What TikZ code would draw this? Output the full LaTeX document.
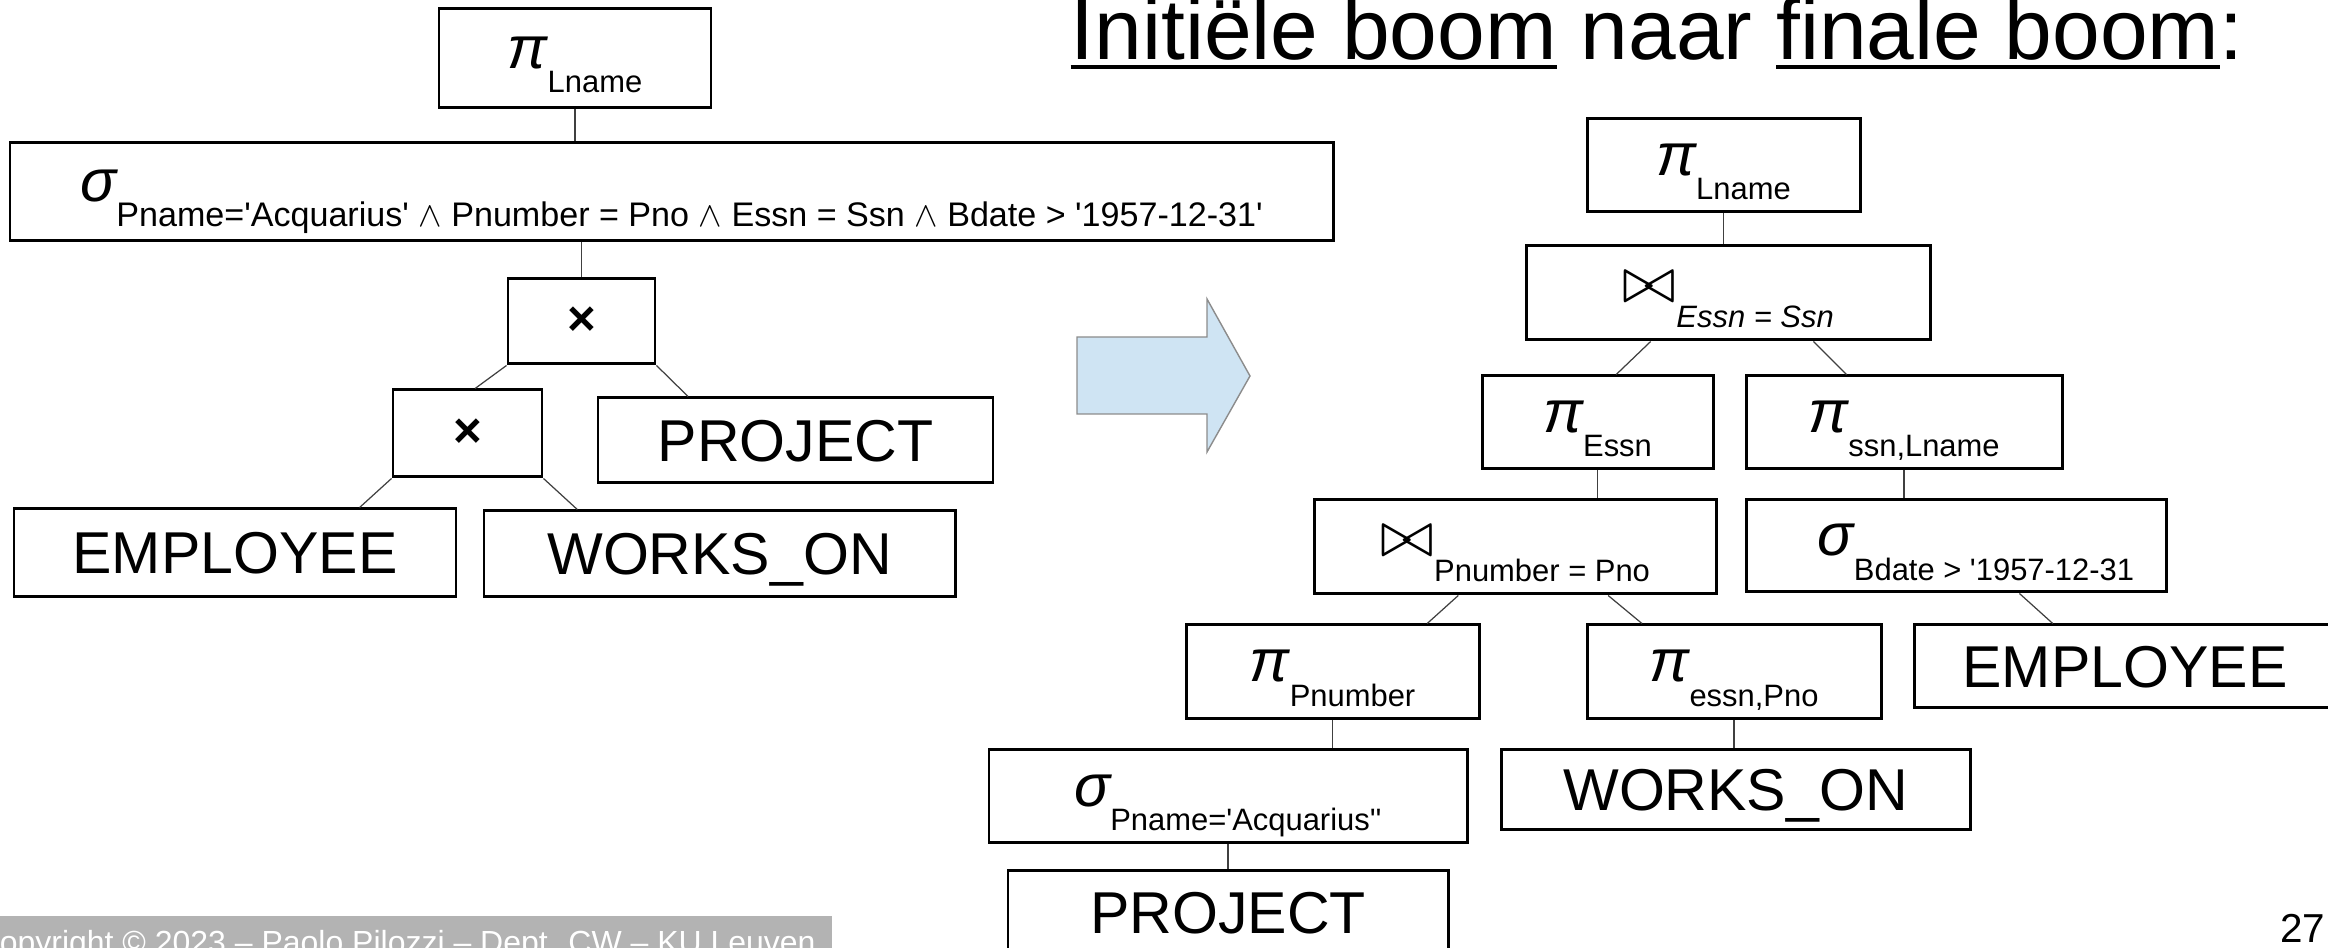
\documentclass[tikz,border=0pt]{standalone}
\usepackage{fontspec}
\setmainfont{Liberation Sans}
\usepackage{graphicx}
\usepackage{tikz}
\usetikzlibrary{calc}
\definecolor{ArrowFill}{HTML}{CFE4F3}
\definecolor{ArrowLine}{HTML}{8C8C8C}
\definecolor{FootGray}{HTML}{B3B3B3}
\newsavebox{\ulbox}
\newcommand{\ttlul}[1]{\sbox{\ulbox}{#1}\rlap{\rule[-2.6pt]{\wd\ulbox}{1.1pt}}\usebox{\ulbox}}
\newcommand{\sqt}{\textquotesingle}
\newcommand{\opsym}[3][8.8pt]{{\fontsize{17pt}{17pt}\selectfont\itshape #2}\raisebox{-7pt}{\fontsize{#1}{10pt}\selectfont #3}}
\newcommand{\joinop}[1]{\scalebox{1.85}{$\bowtie$}\raisebox{-7pt}{\fontsize{8.8pt}{10pt}\selectfont #1}}
\newcommand{\crossop}{{\fontsize{14pt}{14pt}\selectfont\bfseries ×}}

\begin{document}
\begin{tikzpicture}[box/.style={draw, line width=0.85pt, inner sep=0pt},
  op/.style={box, text height=9.5pt, text depth=4pt},
  leaf/.style={box, text depth=0pt, font=\fontsize{16.8pt}{18pt}\selectfont},
  link/.style={draw=black!75, line width=0.35pt}]
  \useasboundingbox (0,0) rectangle (23.28,-9.48);
  % initial tree
  \node[op, minimum width=2.72cm, minimum height=0.99cm] (lpi) at (5.75,-0.585) {\opsym{π}{Lname}};
  \node[op, minimum width=13.23cm, minimum height=0.98cm] (lsel) at (6.715,-1.92)
    {\opsym[9.7pt]{σ}{Pname=\sqt Acquarius\sqt{} $\wedge$ Pnumber = Pno $\wedge$ Essn = Ssn $\wedge$ Bdate > \sqt 1957-12-31\sqt}};
  \node[box, minimum width=1.47cm, minimum height=0.85cm] (ltop) at (5.815,-3.215) {\crossop};
  \node[box, minimum width=1.49cm, minimum height=0.87cm] (llow) at (4.675,-4.335) {\crossop};
  \node[leaf, minimum width=3.95cm, minimum height=0.85cm] (lproj) at (7.955,-4.405) {PROJECT};
  \node[leaf, minimum width=4.42cm, minimum height=0.88cm] (lemp) at (2.35,-5.53) {EMPLOYEE};
  \node[leaf, minimum width=4.71cm, minimum height=0.86cm] (lworks) at (7.195,-5.54) {WORKS\_ON};
  \draw[link] (lpi.south) -- (lpi.south |- lsel.north);
  \draw[link] (ltop.north |- lsel.south) -- (ltop.north);
  \draw[link] (ltop.south west) -- ($(llow.north west)!.55!(llow.north east)$);
  \draw[link] (ltop.south east) -- ($(lproj.north west)!.23!(lproj.north east)$);
  \draw[link] (llow.south west) -- ($(lemp.north west)!.78!(lemp.north east)$);
  \draw[link] (llow.south east) -- ($(lworks.north west)!.2!(lworks.north east)$);
  % arrow
  \draw[fill=ArrowFill, draw=ArrowLine, line width=0.4pt] (10.77,-3.37) -- (12.07,-3.37) -- (12.07,-2.99)
    -- (12.50,-3.76) -- (12.07,-4.52) -- (12.07,-4.14) -- (10.77,-4.14) -- cycle;
  % title
  \node[anchor=base west, inner sep=0pt, font=\fontsize{24.4pt}{27pt}\selectfont] (title) at (10.70,-0.60)
    {\ttlul{Initiële boom} naar \ttlul{finale boom}:};
  % final tree
  \node[op, minimum width=2.73cm, minimum height=0.93cm] (rpi) at (17.235,-1.655) {\opsym{π}{Lname}};
  \node[op, minimum width=4.04cm, minimum height=0.94cm] (rjoin) at (17.28,-2.93) {\joinop{\itshape Essn = Ssn}};
  \node[op, minimum width=2.31cm, minimum height=0.93cm] (rpiE) at (15.975,-4.225) {\opsym{π}{Essn}};
  \node[op, minimum width=3.16cm, minimum height=0.93cm] (rpiS) at (19.04,-4.225) {\opsym{π}{ssn,Lname}};
  \node[op, minimum width=4.02cm, minimum height=0.94cm] (rjoinP) at (15.15,-5.47) {\joinop{Pnumber = Pno}};
  \node[op, minimum width=4.20cm, minimum height=0.92cm] (rselB) at (19.56,-5.46) {\hspace*{0.4cm}\opsym{σ}{Bdate > \sqt 1957-12-31}};
  \node[op, minimum width=2.93cm, minimum height=0.94cm] (rpiP) at (13.325,-6.72) {\opsym{π}{Pnumber}};
  \node[op, minimum width=2.94cm, minimum height=0.94cm] (rpiW) at (17.34,-6.72) {\opsym{π}{essn,Pno}};
  \node[leaf, minimum width=4.22cm, minimum height=0.83cm] (remp) at (21.25,-6.665) {EMPLOYEE};
  \node[op, minimum width=4.78cm, minimum height=0.93cm] (rselP) at (12.28,-7.965) {\opsym{σ}{Pname=\sqt Acquarius\sqt\sqt}};
  \node[leaf, minimum width=4.69cm, minimum height=0.80cm] (rworks) at (17.355,-7.90) {WORKS\_ON};
  \node[leaf, minimum width=4.40cm, minimum height=0.85cm] (rproj) at (12.28,-9.13) {PROJECT};
  \draw[link] (rpi.south) -- (rpi.south |- rjoin.north);
  \draw[link] ($(rjoin.south west)!.31!(rjoin.south east)$) -- ($(rpiE.north west)!.58!(rpiE.north east)$);
  \draw[link] ($(rjoin.south west)!.71!(rjoin.south east)$) -- ($(rpiS.north west)!.32!(rpiS.north east)$);
  \draw[link] (rpiE.south) -- (rpiE.south |- rjoinP.north);
  \draw[link] (rpiS.south) -- (rpiS.south |- rselB.north);
  \draw[link] ($(rjoinP.south west)!.36!(rjoinP.south east)$) -- ($(rpiP.north west)!.82!(rpiP.north east)$);
  \draw[link] ($(rjoinP.south west)!.73!(rjoinP.south east)$) -- ($(rpiW.north west)!.19!(rpiW.north east)$);
  \draw[link] ($(rselB.south west)!.65!(rselB.south east)$) -- ($(remp.north west)!.33!(remp.north east)$);
  \draw[link] (rpiP.south) -- (rpiP.south |- rselP.north);
  \draw[link] (rpiW.south) -- (rpiW.south |- rworks.north);
  \draw[link] (rselP.south) -- (rselP.south |- rproj.north);
  % footer
  \fill[FootGray] (0,-9.16) rectangle (8.32,-9.60);
  \node[anchor=base west, inner sep=0pt, text=white, font=\fontsize{9.1pt}{10pt}\selectfont] (foot) at (-0.24,-9.54)
    {Copyright © 2023 – Paolo Pilozzi – Dept. CW – KU Leuven};
  \node[anchor=base east, inner sep=0pt, font=\fontsize{11.5pt}{13pt}\selectfont] (page) at (23.26,-9.43) {27};
\end{tikzpicture}
\end{document}
